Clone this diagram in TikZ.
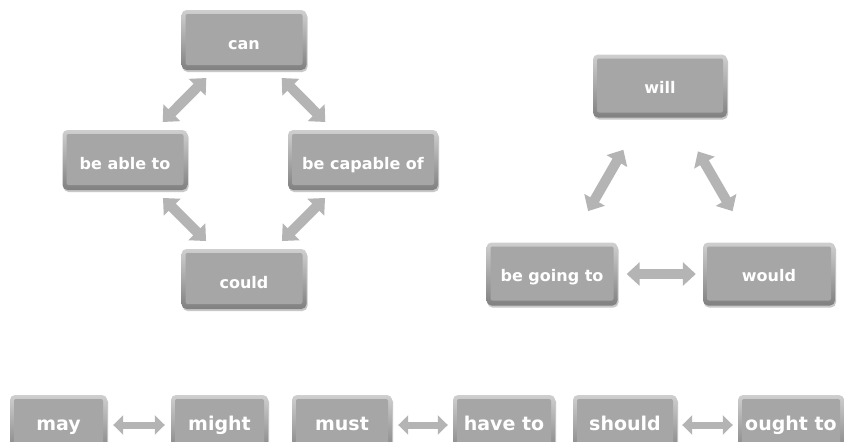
\documentclass[tikz,border=0pt]{standalone}
\usepackage{fontspec}
\setmainfont{DejaVu Sans}
\usetikzlibrary{arrows.meta,shadows}
\definecolor{facegray}{HTML}{A6A6A6}
\definecolor{bevtop}{HTML}{CFCFCF}
\definecolor{bevmid}{HTML}{A8A8A8}
\definecolor{bevbot}{HTML}{808080}
\definecolor{arrgray}{HTML}{B4B4B4}
\tikzset{
  mbx/.style={rounded corners=5pt, inner sep=0pt, minimum height=60pt,
    top color=bevtop, bottom color=bevbot, middle color=bevmid,
    text=white, font=\fontsize{16}{16}\selectfont\bfseries,
    text height=18pt, text depth=0pt,
    drop shadow={shadow xshift=1pt, shadow yshift=-2pt, opacity=0.3, fill=black!70},
    path picture={\fill[facegray, rounded corners=2pt]
      ([shift={(4pt,-4pt)}]path picture bounding box.north west) rectangle
      ([shift={(-4pt,5pt)}]path picture bounding box.south east);}},
  mbxr/.style={mbx, text height=14pt},
  mbxbig/.style={mbx, font=\fontsize{19}{19}\selectfont\bfseries, text height=10pt},
  dbl/.style={draw=arrgray, line width=10pt,
    {Triangle[width=23pt,length=13pt]}-{Triangle[width=23pt,length=13pt]}},
  dblsmall/.style={draw=arrgray, line width=7pt,
    {Triangle[width=19pt,length=10pt]}-{Triangle[width=19pt,length=10pt]}}
}
\begin{document}
\begin{tikzpicture}[x=1pt,y=-1pt]
\useasboundingbox[fill=white] (0,0) rectangle (844,442);
\begin{scope}
\clip (0,0) rectangle (844,442);
% left group
\node[mbx, minimum width=125pt] (can) at (244,40) {can};
\node[mbx, minimum width=125pt] (able) at (125,160) {be able to};
\node[mbx, minimum width=150pt] (capable) at (363,160) {be capable of};
\node[mbx, minimum width=125pt] (could) at (244,279) {could};
% right group
\node[mbxr, minimum width=134pt, minimum height=63pt] (will) at (660,86) {will};
\node[mbxr, minimum width=131pt, minimum height=63pt] (going) at (552,274) {be going to};
\node[mbxr, minimum width=132pt, minimum height=63pt] (would) at (769,274) {would};
% bottom row
\node[mbxbig, minimum width=97pt] (may) at (58.5,425) {may};
\node[mbxbig, minimum width=97pt] (might) at (219.5,425) {might};
\node[mbxbig, minimum width=100pt] (must) at (342,425) {must};
\node[mbxbig, minimum width=102pt] (haveto) at (504,425) {have to};
\node[mbxbig, minimum width=104pt] (should) at (625,425) {should};
\node[mbxbig, minimum width=106pt] (oughtto) at (791,425) {ought to};
% arrows
\draw[dbl, shorten <=11pt, shorten >=11pt] (can) -- (able);
\draw[dbl, shorten <=11pt, shorten >=11pt] (can) -- (capable);
\draw[dbl, shorten <=11pt, shorten >=11pt] (able) -- (could);
\draw[dbl, shorten <=11pt, shorten >=11pt] (capable) -- (could);
\draw[dbl, shorten <=37pt, shorten >=36pt] (will) -- (going);
\draw[dbl, shorten <=39pt, shorten >=36pt] (will) -- (would);
\draw[dbl, shorten <=9pt, shorten >=7pt] (going) -- (would);
\draw[dblsmall, shorten <=6pt, shorten >=6pt] (may) -- (might);
\draw[dblsmall, shorten <=6pt, shorten >=5pt] (must) -- (haveto);
\draw[dblsmall, shorten <=5pt, shorten >=5pt] (should) -- (oughtto);
\end{scope}
\end{tikzpicture}
\end{document}
